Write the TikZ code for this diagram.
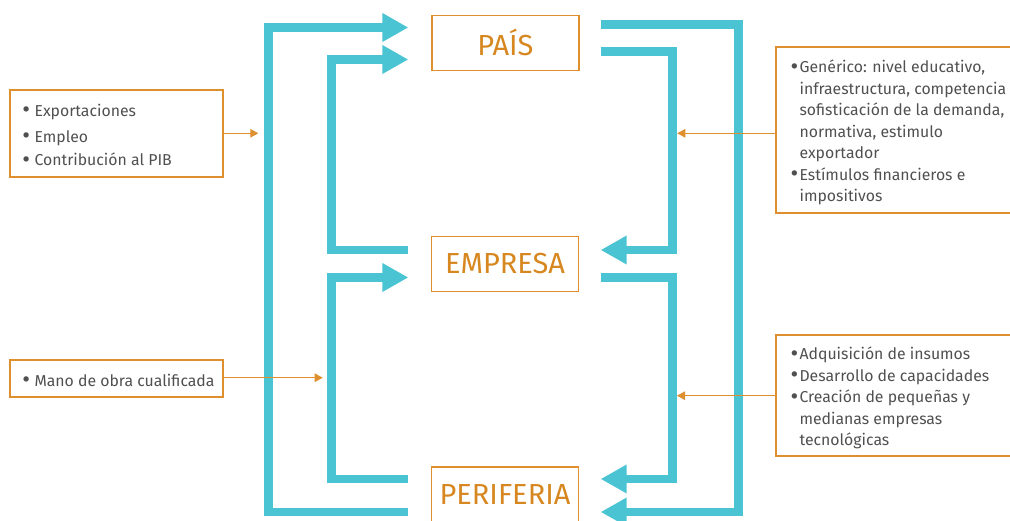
\documentclass[tikz,border=0pt]{standalone}
\usepackage{fontspec}
\setmainfont{Fira Sans}
\usetikzlibrary{arrows.meta}
\definecolor{flowCyan}{HTML}{4AC4D2}
\definecolor{boxOrange}{HTML}{DE8F2E}
\definecolor{labelOrange}{HTML}{D7871F}
\definecolor{textGray}{HTML}{505050}
\newcommand{\itemDot}[1]{\makebox[#1][l]{\raisebox{-1.4pt}{\scalebox{1.5}{•}}}}
\begin{document}
\begin{tikzpicture}[
x=1pt, y=1pt,
box/.style={draw=boxOrange, line width=1.3pt, inner sep=0pt},
title/.style={
box,
minimum width=147pt,
minimum height=55pt,
text=labelOrange,
font=\fontsize{29}{31}\selectfont
},
info/.style={inner sep=0pt, text=textGray, font=\fontsize{15.8}{21.5}\selectfont},
flow/.style={draw=flowCyan, line width=8.5pt, line join=miter},
flowArrow/.style={flow, -{Triangle[length=26pt,width=27pt]}},
link/.style={draw=boxOrange, line width=1.2pt, -{Triangle[length=8pt,width=8.5pt]}}
]
\useasboundingbox (0,0) rectangle (1010,520);
\clip (0,0) rectangle (1010,520);
\node[title] (pais) at (505.5,477.3) {PAÍS};
\node[title] (empresa) at (505,256) {EMPRESA};
\node[title] (periferia) at (505,25.5) {PERIFERIA};
\draw[flowArrow] ([shift={(-22.5,-17.5)}]periferia.west) -- ++(-140,0)
|- ([shift={(-23,15.2)}]pais.west);
\draw[flowArrow] ([shift={(-22.5,14)}]empresa.west) -- ++(-77,0)
|- ([shift={(-23,-16.8)}]pais.west);
\draw[flowArrow] ([shift={(-22.5,15.5)}]periferia.west) -- ++(-77,0)
|- ([shift={(-22.5,-13.5)}]empresa.west);
\draw[flowArrow] ([shift={(21,18.2)}]pais.east) -- ++(138,0)
|- ([shift={(21.5,-17.5)}]periferia.east);
\draw[flowArrow] ([shift={(21,-8.6)}]pais.east) -- ++(72,0)
|- ([shift={(21.5,14)}]empresa.east);
\draw[flowArrow] ([shift={(21.5,-13.5)}]empresa.east) -- ++(72,0)
|- ([shift={(21.5,15.5)}]periferia.east);
\node[box, minimum width=213pt, minimum height=87pt] (exportBox) at (116.5,386.4) {};
\node[info, anchor=north west] (exportText) at ([shift={(12.7,-10.3)}]exportBox.north west)
{\fontsize{15.8}{23.5}\selectfont
\begin{tabular}{@{}l@{}l@{}}
\itemDot{12.3pt} & Exportaciones\\[2.5pt]
\itemDot{12.3pt} & Empleo\\
\itemDot{12.3pt} & Contribución al PIB
\end{tabular}};
\node[box, minimum width=213pt, minimum height=37pt] (skillBox) at (116.5,141.5) {};
\node[info, anchor=base west] (skillText) at ([shift={(12.7,-26.7)}]skillBox.north west)
{\itemDot{12.3pt}Mano de obra cualificada};
\node[box, minimum width=260pt, minimum height=166pt] (factorBox) at (906,390) {};
\node[info, anchor=north west] (factorText) at ([shift={(15,-11.3)}]factorBox.north west)
{\begin{tabular}{@{}l@{}l@{}}
\itemDot{9pt} & Genérico: nivel educativo,\\
& infraestructura, competencia\\
& sofisticación de la demanda,\\
& normativa, estimulo\\
& exportador\\
\itemDot{9pt} & Estímulos financieros e\\
& impositivos
\end{tabular}};
\node[box, minimum width=260pt, minimum height=121pt] (sourceBox) at (906,124.5) {};
\node[info, anchor=north west] (sourceText) at ([shift={(15,-10.3)}]sourceBox.north west)
{\begin{tabular}{@{}l@{}l@{}}
\itemDot{9pt} & Adquisición de insumos\\
\itemDot{9pt} & Desarrollo de capacidades\\
\itemDot{9pt} & Creación de pequeñas y\\
& medianas empresas\\
& tecnológicas
\end{tabular}};
\coordinate (exportTip) at (258.3,386.7);
\coordinate (skillTip) at (322.7,142.3);
\coordinate (factorTip) at (677.3,386.7);
\coordinate (sourceTip) at (677,124.3);
\draw[link] (exportBox.east |- exportTip) -- (exportTip);
\draw[link] (skillBox.east |- skillTip) -- (skillTip);
\draw[link] (factorBox.west |- factorTip) -- (factorTip);
\draw[link] (sourceBox.west |- sourceTip) -- (sourceTip);
\end{tikzpicture}
\end{document}
